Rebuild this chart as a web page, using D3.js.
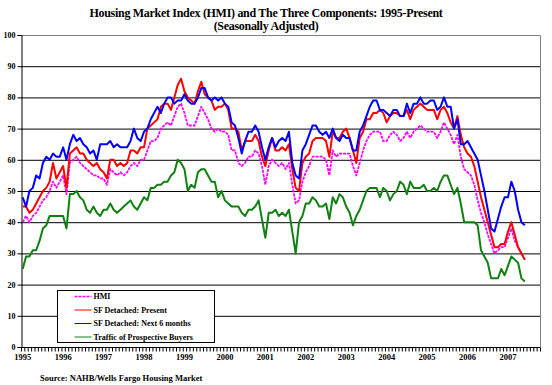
<!DOCTYPE html>
<html>
<head>
<meta charset="utf-8">
<script src="https://cdn.jsdelivr.net/npm/d3@7"></script>
<style>
  body { margin: 0; background: #fff; }
  text { font-family: "Liberation Serif", "Times New Roman", serif; font-weight: bold; }
</style>
</head>
<body>
<svg id="chart" width="552" height="385"></svg>
<script>
// monthly values, Jan 1995 - Jun 2007
const hmi = [
  40, 42, 40, 42, 43, 45, 47, 48, 50, 53, 51, 53, 55, 49, 59, 60, 61, 59, 58, 57, 56, 55, 55, 54, 54, 52, 57, 56, 55, 56,
  55, 56, 58, 59, 58, 60, 60, 63, 66, 66, 67, 70, 71, 72, 71, 74, 77, 78, 75, 71, 71, 71, 74, 77, 75, 73, 70, 69, 70, 69,
  69, 68, 63, 63, 59, 58, 59, 61, 61, 63, 62, 58, 52, 58, 60, 59, 58, 59, 57, 59, 52, 46, 47, 53, 56, 58, 61, 61, 61, 61,
  60, 55, 63, 61, 62, 62, 62, 62, 58, 55, 59, 63, 66, 68, 69, 69, 69, 66, 66, 68, 69, 68, 66, 67, 69, 67, 69, 70, 71, 70,
  69, 69, 69, 67, 69, 72, 70, 68, 65, 68, 61, 57, 56, 55, 52, 47, 43, 40, 36, 33, 30, 31, 32, 32, 35, 38, 34, 32, 30, 28
];
const present = [
  45, 45, 43, 44, 46, 48, 50, 51, 53, 59, 54, 56, 58, 51, 62, 63, 64, 62, 62, 60, 59, 58, 59, 57, 56, 54, 60, 60, 58, 59,
  58, 59, 63, 63, 62, 64, 64, 70, 71, 72, 73, 77, 78, 78, 76, 80, 84, 86, 82, 80, 79, 78, 82, 85, 81, 80, 79, 76, 77, 77,
  78, 76, 70, 70, 69, 63, 66, 66, 66, 68, 66, 61, 58, 63, 67, 63, 63, 64, 63, 65, 57, 51, 50, 59, 61, 62, 66, 67, 67, 67,
  66, 61, 69, 67, 67, 69, 70, 67, 63, 59, 67, 69, 73, 73, 75, 75, 76, 75, 72, 74, 75, 75, 74, 74, 76, 73, 76, 77, 78, 77,
  76, 76, 76, 73, 76, 77, 75, 72, 70, 74, 68, 64, 62, 61, 58, 53, 48, 44, 40, 36, 32, 32, 33, 33, 37, 40, 36, 32, 30, 28
];
const next6 = [
  48, 45, 50, 51, 55, 54, 59, 61, 60, 62, 61, 61, 64, 60, 65, 68, 66, 67, 65, 64, 62, 63, 60, 65, 65, 65, 66, 64, 65, 64,
  64, 64, 66, 70, 67, 66, 69, 70, 73, 75, 77, 75, 78, 80, 80, 78, 79, 79, 81, 79, 78, 78, 80, 83, 83, 80, 79, 80, 79, 80,
  78, 77, 72, 71, 67, 62, 66, 69, 69, 71, 69, 64, 60, 64, 67, 64, 66, 67, 66, 69, 59, 55, 54, 63, 65, 68, 71, 71, 69, 68,
  69, 67, 70, 67, 66, 68, 67, 67, 63, 63, 69, 71, 74, 77, 79, 79, 76, 76, 75, 74, 76, 76, 74, 74, 78, 75, 78, 78, 80, 78,
  78, 79, 79, 76, 77, 80, 77, 77, 70, 73, 65, 65, 66, 64, 62, 60, 55, 50, 44, 38, 37, 41, 45, 48, 48, 53, 50, 44, 40, 39
];
const traffic = [
  25, 29, 29, 31, 31, 34, 38, 39, 42, 42, 42, 42, 42, 38, 49, 49, 50, 48, 47, 44, 43, 45, 43, 42, 44, 44, 46, 44, 43, 44,
  45, 46, 47, 45, 44, 46, 48, 47, 51, 51, 52, 52, 53, 53, 55, 56, 60, 59, 57, 50, 52, 51, 56, 57, 57, 55, 53, 53, 48, 50,
  47, 46, 45, 45, 45, 43, 42, 44, 44, 45, 47, 41, 35, 43, 43, 44, 42, 43, 42, 44, 37, 30, 40, 42, 46, 46, 48, 47, 45, 45,
  46, 41, 48, 46, 49, 48, 45, 43, 39, 42, 44, 47, 50, 51, 51, 51, 48, 51, 50, 47, 49, 50, 53, 52, 49, 53, 51, 51, 51, 52,
  50, 50, 51, 50, 53, 55, 55, 52, 49, 51, 46, 40, 40, 40, 40, 39, 31, 29, 27, 22, 22, 22, 25, 23, 26, 29, 28, 27, 22, 21
];
const years = [1995, 1996, 1997, 1998, 1999, 2000, 2001, 2002, 2003, 2004, 2005, 2006, 2007];
const yTicks = [0, 10, 20, 30, 40, 50, 60, 70, 80, 90, 100];

// axis runs Jan 1995 .. Oct 2007
const months = [];
years.forEach(yr => { for (let m = 1; m <= 12; m++) months.push(yr + "-" + m); });
months.length = 154;

const series = [
  {name: "HMI", values: hmi, color: "#ff00ff", width: 1.8, dash: "3,1"},
  {name: "SF Detached: Present", values: present, color: "#ff0000", width: 2, dash: null},
  {name: "SF Detached: Next 6 months", values: next6, color: "#0000ff", width: 2, dash: null},
  {name: "Traffic of Prospective Buyers", values: traffic, color: "#108010", width: 2, dash: null}
];

const svg = d3.select("#chart");
const plotL = 21, plotR = 540, plotT = 35, plotB = 347;

const x = d3.scaleBand().domain(months).range([plotL, plotR]).paddingInner(0).paddingOuter(0);
const xEdge = d3.scaleLinear().domain([0, months.length]).range([plotL, plotR]);
const y = d3.scaleLinear().domain([0, 100]).range([plotB, plotT]);

// title
svg.append("text").attr("x", 266).attr("y", 17).attr("text-anchor", "middle")
  .style("font-size", "12px").style("letter-spacing", "-0.3px")
  .text("Housing Market Index (HMI) and The Three Components: 1995-Present");
svg.append("text").attr("x", 266).attr("y", 30).attr("text-anchor", "middle")
  .style("font-size", "12px").style("letter-spacing", "-0.3px")
  .text("(Seasonally Adjusted)");

// gridlines
svg.append("g").selectAll("line")
  .data(yTicks.filter(d => d > 0 && d < 100))
  .enter().append("line")
    .attr("x1", plotL).attr("x2", plotR)
    .attr("y1", d => y(d) + 0.5).attr("y2", d => y(d) + 0.5)
    .attr("stroke", "#000").attr("stroke-width", 1);

// plot border (top and right)
svg.append("path")
  .attr("d", `M${plotL},${y(100) + 0.5}H${plotR + 0.5}V${plotB}`)
  .attr("fill", "none").attr("stroke", "#808080");

// y axis
const yAxis = svg.append("g")
  .attr("transform", `translate(${plotL + 0.5},0)`)
  .call(d3.axisLeft(y).tickValues(yTicks).tickSize(4).tickPadding(2));
yAxis.select(".domain").attr("stroke", "#000");
yAxis.selectAll("text").style("font-size", "8px").attr("fill", "#000");

// x axis: month ticks at category edges, year labels under January
const xTicks = svg.append("g")
  .attr("transform", `translate(0,${plotB + 0.5})`)
  .call(d3.axisBottom(xEdge).tickValues(d3.range(0, months.length + 1)).tickSize(4).tickFormat(""));
xTicks.select(".domain").remove();
svg.append("line").attr("x1", plotL).attr("x2", plotR + 0.5)
  .attr("y1", plotB + 0.5).attr("y2", plotB + 0.5).attr("stroke", "#000");

const xLabels = svg.append("g")
  .attr("transform", `translate(0,${plotB + 4})`)
  .call(d3.axisBottom(x).tickValues(years.map(d => d + "-1")).tickSize(0).tickPadding(3)
    .tickFormat(d => d.split("-")[0]));
xLabels.select(".domain").remove();
xLabels.selectAll("text").style("font-size", "8.5px").attr("fill", "#000");

// lines
const line = d3.line()
  .x((d, i) => x(months[i]) + x.bandwidth() / 2)
  .y(d => y(d));

svg.append("g").selectAll("path")
  .data(series)
  .enter().append("path")
    .attr("d", d => line(d.values))
    .attr("fill", "none")
    .attr("stroke", d => d.color)
    .attr("stroke-width", d => d.width)
    .attr("stroke-dasharray", d => d.dash)
    .attr("stroke-linejoin", "round");

// legend
const legend = svg.append("g").attr("transform", "translate(57.5,290.5)");
legend.append("rect").attr("width", 157).attr("height", 52)
  .attr("fill", "#fff").attr("stroke", "#000");
const items = legend.selectAll("g.item")
  .data(series)
  .enter().append("g")
    .attr("class", "item")
    .attr("transform", (d, i) => `translate(0,${6 + i * 13.5})`);
items.append("line")
  .attr("x1", 17).attr("x2", 34)
  .attr("stroke", d => d.color)
  .attr("stroke-width", d => d.dash ? 1.5 : 1)
  .attr("stroke-dasharray", d => d.dash);
items.append("text").attr("x", 36).attr("dy", "0.33em")
  .style("font-size", "8px")
  .text(d => d.name);

// source
svg.append("text").attr("x", 40).attr("y", 381)
  .style("font-size", "8.5px")
  .text("Source: NAHB/Wells  Fargo Housing  Market");
</script>
</body>
</html>
